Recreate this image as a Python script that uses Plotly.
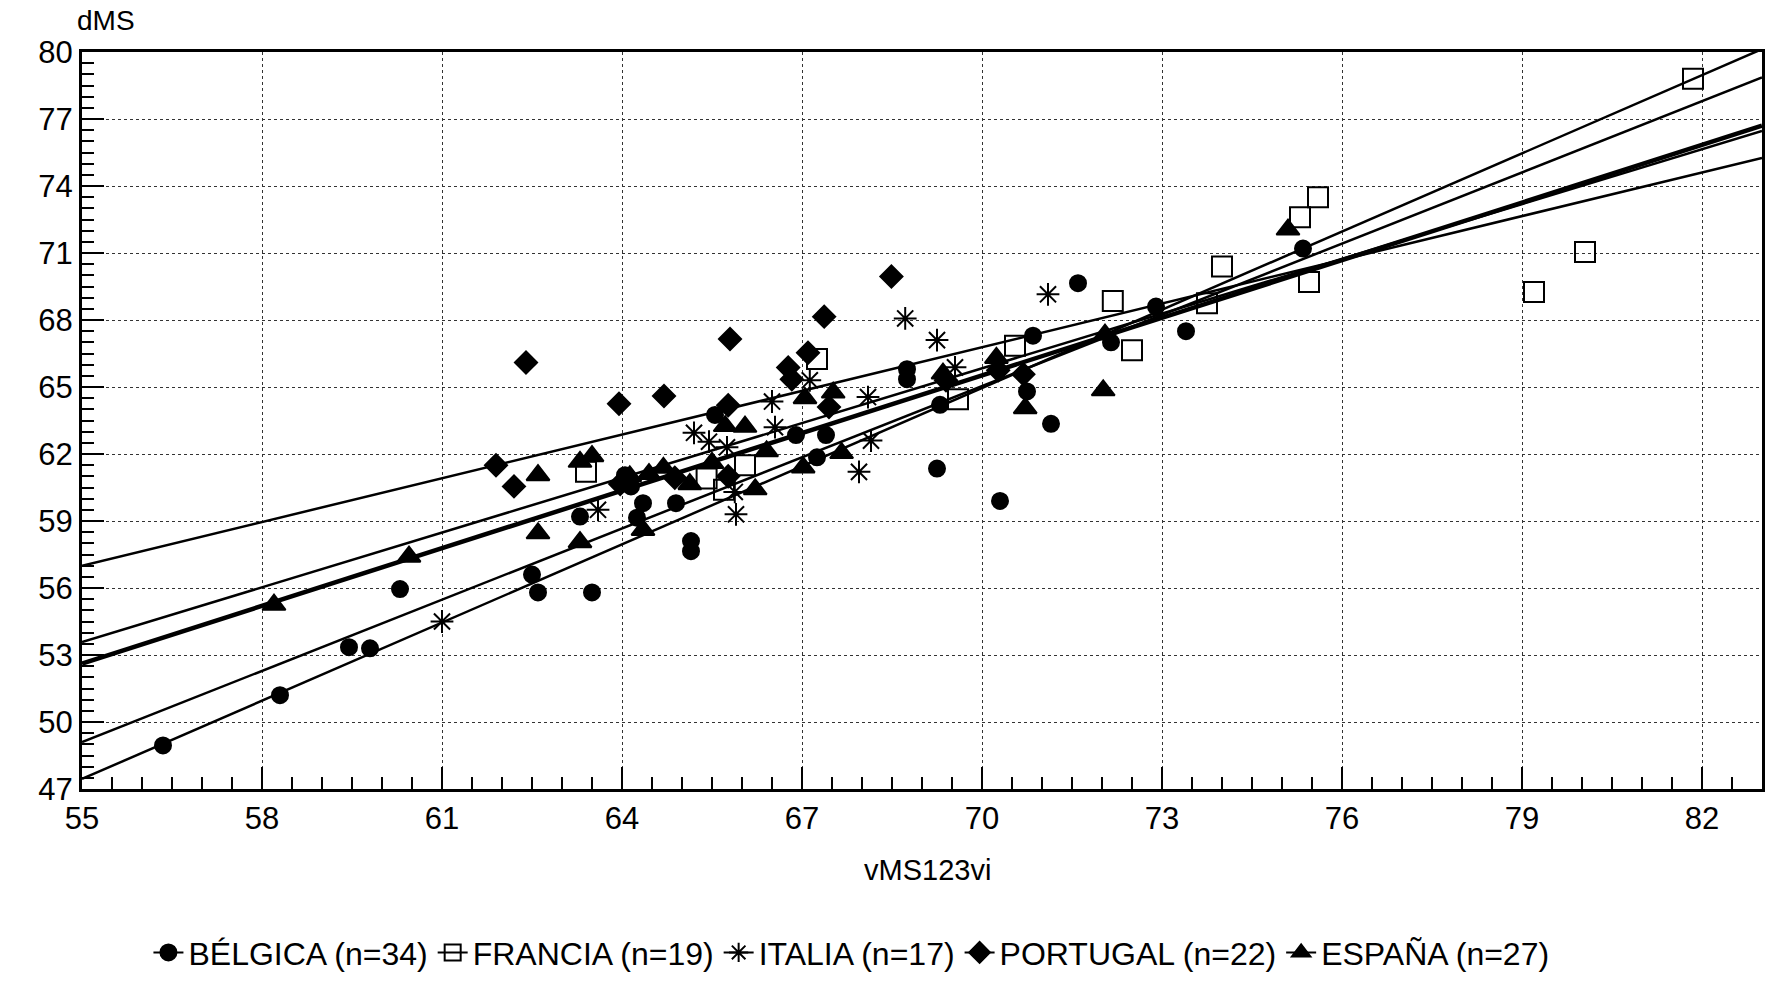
import plotly.graph_objects as go

# ---- data ----
belgica_x = [56.35, 58.3, 59.45, 59.8, 60.3, 62.5, 62.6, 63.3, 63.5, 64.05, 64.25, 64.35, 64.9,
             65.15, 65.15, 65.55, 66.9, 67.4, 68.75, 68.75, 69.3, 69.25, 70.3, 70.75, 70.85,
             71.15, 71.6, 72.15, 72.9, 73.4, 75.35, 67.25, 64.15]
belgica_y = [48.95, 51.2, 53.35, 53.3, 55.95, 56.6, 55.8, 59.2, 55.8, 61.05, 59.15, 59.8, 59.8,
             58.1, 57.65, 63.75, 62.85, 62.85, 65.8, 65.35, 64.2, 61.35, 59.9, 64.8, 67.3,
             63.35, 69.65, 67.0, 68.6, 67.5, 71.2, 61.85, 60.55]

francia_x = [63.4, 65.41, 65.7, 66.05, 67.25, 69.6, 70.55, 72.18, 72.5, 73.75, 74.0, 75.3,
             75.45, 75.6, 79.2, 80.05, 81.85]
francia_y = [61.2, 60.9, 60.4, 61.5, 66.25, 64.45, 66.85, 68.85, 66.65, 68.75, 70.4, 72.6,
             69.7, 73.5, 69.25, 71.05, 78.8]

italia_x = [61.0, 63.6, 65.2, 65.45, 65.75, 65.88, 65.9, 66.5, 66.55, 67.13, 67.95, 68.1,
            68.15, 68.72, 69.25, 69.55, 71.1]
italia_y = [54.5, 59.5, 62.95, 62.55, 62.3, 60.3, 59.3, 64.35, 63.2, 65.3, 61.2, 64.55,
            62.6, 68.07, 67.1, 65.88, 69.15]

portugal_x = [61.9, 62.2, 62.4, 63.95, 63.97, 64.7, 64.88, 65.77, 65.8, 65.77, 66.77, 66.83,
              67.1, 67.37, 67.45, 68.49, 70.27, 70.69, 69.4]
portugal_y = [61.5, 60.55, 66.1, 64.25, 60.66, 64.6, 60.94, 64.18, 67.15, 61.0, 65.87, 65.35,
              66.53, 68.15, 64.1, 69.95, 65.75, 65.57, 65.3]

espana_x = [58.2, 60.45, 62.6, 62.6, 63.3, 63.3, 63.5, 64.13, 64.35, 64.69, 65.13, 65.5,
            65.72, 66.05, 66.41, 66.22, 67.05, 67.52, 67.66, 67.02, 69.35, 70.24, 70.72,
            72.02, 72.05, 75.1, 64.45]
espana_y = [55.25, 57.4, 61.05, 58.45, 58.05, 61.65, 61.9, 61.0, 58.6, 61.38, 60.65, 61.6,
            63.25, 63.22, 62.12, 60.42, 64.5, 64.75, 62.04, 61.4, 65.6, 66.3, 64.05,
            64.85, 67.35, 72.05, 61.1]

# regression lines (value at x = 55 and at x = 83)
fit_x = [55, 83]
fit_start = {"BÉLGICA": 47.45, "FRANCIA": 49.1, "ITALIA": 53.58, "PORTUGAL": 57.0, "ESPAÑA": 52.62}
fit_end = {"BÉLGICA": 80.13, "FRANCIA": 78.86, "ITALIA": 76.46, "PORTUGAL": 75.26, "ESPAÑA": 76.7}
fit_width = {"BÉLGICA": 2.5, "FRANCIA": 2.5, "ITALIA": 2.5, "PORTUGAL": 2.5, "ESPAÑA": 4.5}

countries = ["BÉLGICA", "FRANCIA", "ITALIA", "PORTUGAL", "ESPAÑA"]
counts = [34, 19, 17, 22, 27]
xs = [belgica_x, francia_x, italia_x, portugal_x, espana_x]
ys = [belgica_y, francia_y, italia_y, portugal_y, espana_y]
symbols = ["circle", "square-open", "asterisk-open", "diamond", "triangle-up"]
sizes = [16, 20, 19, 17, 20]

x_ticks = [55, 58, 61, 64, 67, 70, 73, 76, 79, 82]
y_ticks = [47, 50, 53, 56, 59, 62, 65, 68, 71, 74, 77, 80]

FONT = "Liberation Sans, Arial, sans-serif"

fig = go.Figure()

for c in countries:
    fig.add_trace(go.Scatter(
        x=fit_x, y=[fit_start[c], fit_end[c]], mode="lines",
        line=dict(color="black", width=fit_width[c]),
        showlegend=False, hoverinfo="skip", cliponaxis=True))

for c, n, x, y, s, sz in zip(countries, counts, xs, ys, symbols, sizes):
    fig.add_trace(go.Scatter(
        x=x, y=y, mode="markers",
        marker=dict(symbol=s, size=sz, color="black",
                    line=dict(color="black", width=2)),
        showlegend=False, name=f"{c} (n={n})"))

# legend entries (line + marker style as in the reference)
for c, n, s, sz in zip(countries, counts, symbols, sizes):
    fig.add_trace(go.Scatter(
        x=[None], y=[None], mode="lines+markers", name=f"{c} (n={n})",
        marker=dict(symbol=s, size=min(sz, 17), color="black",
                    line=dict(color="black", width=2)),
        line=dict(color="black", width=2), showlegend=True))

axis_common = dict(
    showline=True, linecolor="black", linewidth=3, mirror=True,
    ticks="inside", ticklen=22, tickwidth=2, tickcolor="black",
    showgrid=True, gridcolor="#333333", gridwidth=1, griddash="dot",
    zeroline=False,
    tickfont=dict(family=FONT, size=31, color="black"),
    minor=dict(dtick=0.5, ticks="inside", ticklen=12, tickwidth=2,
               tickcolor="black", showgrid=False),
)

fig.update_xaxes(range=[55, 83], tickvals=x_ticks, ticktext=[str(v) for v in x_ticks],
                 **axis_common)
fig.update_yaxes(range=[47, 80], tickvals=y_ticks, ticktext=[str(v) for v in y_ticks],
                 **axis_common)

fig.add_annotation(text="dMS", xref="paper", yref="paper", x=-0.004, y=1.043,
                   xanchor="left", yanchor="middle", showarrow=False,
                   font=dict(family=FONT, size=28, color="black"))
fig.add_annotation(text="vMS123vi", xref="paper", yref="paper", x=0.503, y=-0.110,
                   xanchor="center", yanchor="middle", showarrow=False,
                   font=dict(family=FONT, size=29, color="black"))

fig.update_layout(
    width=1770, height=985,
    margin=dict(l=82, r=5, t=52, b=160),
    paper_bgcolor="white", plot_bgcolor="white",
    font=dict(family=FONT, color="black"),
    legend=dict(orientation="h", x=0.458, y=-0.222, xanchor="center", yanchor="middle",
                font=dict(family=FONT, size=32, color="black"),
                itemwidth=30, bgcolor="rgba(0,0,0,0)"),
)

fig.write_html("out.html")
